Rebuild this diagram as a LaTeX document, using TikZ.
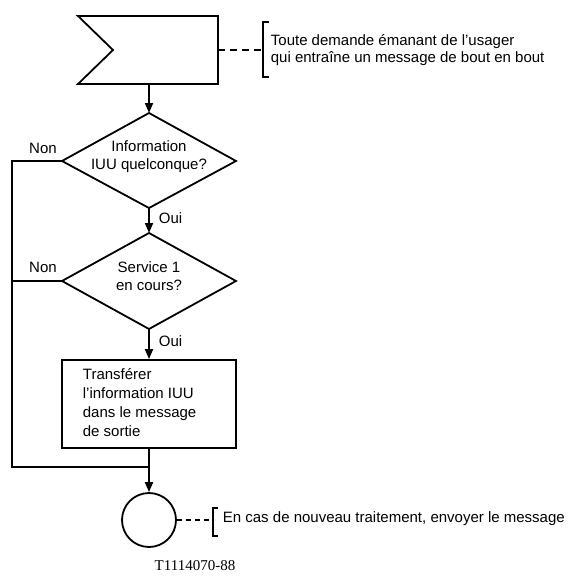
\documentclass[tikz,border=0pt]{standalone}
\usepackage{fontspec}
\setmainfont{Liberation Sans}
\newfontfamily\codefont{Liberation Serif}
\usetikzlibrary{arrows.meta}
\begin{document}
\begin{tikzpicture}[x=1pt,y=-1pt,
  line width=1.8pt,
  every node/.style={font=\fontsize{15}{18}\selectfont, inner sep=0pt},
  dtext/.style={align=center, font=\fontsize{15}{18}\selectfont},
  procbox/.style={draw, rectangle, minimum width=174pt, minimum height=88pt},
  flow/.style={-{Triangle[length=10pt,width=8pt]}},
  lbl/.style={anchor=west},
  brack/.style={line width=2pt},
  dashline/.style={dash pattern=on 7pt off 5pt}]
\useasboundingbox (0,0) rectangle (570,581);
% start symbol
\draw[line join=miter] (78,16) -- (218,16) -- (218,84) -- (78,84) -- (113,50) -- cycle;
\coordinate (startS) at (149,84);
\coordinate (startE) at (218,50);
% decision 1
\coordinate (d1n) at (149,113);
\coordinate (d1s) at (149,208);
\coordinate (d1w) at (62,161);
\coordinate (d1e) at (236,161);
\draw[line join=miter] (d1n) -- (d1e) -- (d1s) -- (d1w) -- cycle;
\node[dtext] (d1) at (149,157) {Information\\IUU quelconque?};
% decision 2
\coordinate (d2n) at (149,233);
\coordinate (d2s) at (149,329);
\coordinate (d2w) at (62,281);
\coordinate (d2e) at (236,281);
\draw[line join=miter] (d2n) -- (d2e) -- (d2s) -- (d2w) -- cycle;
\node[dtext] (d2) at (149,276) {Service 1\\en cours?};
% process box
\node[procbox] (box) at (149,404) {};
\node[anchor=west, align=left, font=\fontsize{15}{19}\selectfont] (boxtxt) at (82,403) {Transférer\\l’information IUU\\dans le message\\de sortie};
% end circle
\node[draw, circle, minimum size=54pt] (end) at (149,520) {};
% flow
\draw[flow] (startS) -- (d1n);
\draw[flow] (d1s) -- (d2n);
\draw[flow] (d2s) -- (box.north);
\coordinate (j) at (149,467);
\coordinate (l1) at (12,161);
\coordinate (l2) at (12,281);
\coordinate (lb) at (12,467);
\draw (d1w) -- (l1) -- (lb) -- (j);
\draw (d2w) -- (l2);
\draw (box.south) -- (j);
\draw[flow] (j) -- (end.north);
% labels
\node (non1) at (43,148) {Non};
\node (non2) at (43,267) {Non};
\node[lbl] (oui1) at (158,218) {Oui};
\node[lbl] (oui2) at (158,341) {Oui};
% comments
\coordinate (b1) at (263,50);
\draw[dashline] (startE) -- (b1);
\draw[brack] (269,22) -- (263,22) -- (263,77) -- (269,77);
\node[anchor=west, align=left, font=\fontsize{15}{17}\selectfont] (c1) at (270,50) {Toute demande émanant de l’usager\\qui entraîne un message de bout en bout};
\coordinate (b2) at (213,520);
\draw[dash pattern=on 5pt off 4pt] (end.east) -- (b2);
\draw[brack] (218,508) -- (213,508) -- (213,536) -- (218,536);
\node[anchor=west] (c2) at (222,519) {En cas de nouveau traitement, envoyer le message};
\node[font=\codefont\fontsize{15}{18}\selectfont] (code) at (195,566) {T1114070-88};
\end{tikzpicture}
\end{document}
